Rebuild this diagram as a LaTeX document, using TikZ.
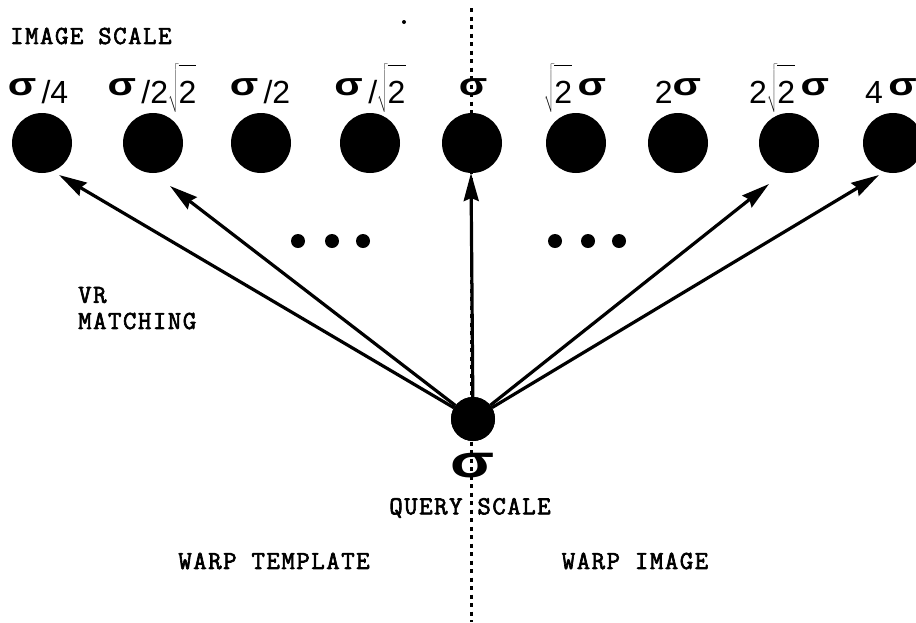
\documentclass[tikz,border=0pt]{standalone}
\usepackage{fontspec}
\setsansfont{Liberation Sans}
\newfontfamily\capfont{Latin Modern Mono}[FakeBold=2.5, LetterSpace=6]
\usetikzlibrary{arrows.meta}

% raised, widened sigma used in the scale labels
\newcommand\ssig{\raisebox{8pt}{\bfseries\scalebox{1.3}[1]{σ}}}
% square root with a tall radical
\newcommand\rtwo{$\sqrt{\rule[-8pt]{0pt}{44pt}\hbox{2}}$}

\tikzset{
  scaledot/.style={circle, fill=black, minimum size=60pt, inner sep=0pt, outer sep=0pt},
  querydot/.style={circle, fill=black, minimum size=44pt, inner sep=0pt, outer sep=0pt},
  pausedot/.style={circle, fill=black, minimum size=14pt, inner sep=0pt},
  scalelabel/.style={anchor=base, inner sep=0pt, font=\sffamily\fontsize{32}{36}\selectfont},
  caption/.style={inner sep=0pt, font=\capfont\fontsize{26}{28}\selectfont},
  match/.style={-{Stealth[length=28pt,width=15pt,inset=3pt]}, line width=3.2pt},
  divider/.style={line width=3pt, dash pattern=on 4pt off 4.5pt}
}

\begin{document}
\begin{tikzpicture}[x=1pt, y=-1pt]
  \useasboundingbox (0,0) rectangle (916,622);
  \clip (0,0) rectangle (916,622);

  % template / image divider
  \coordinate (dtop) at (471,8);
  \coordinate (dbot) at (471,622);
  \draw[divider] (dtop) -- (dbot);
  \fill (404,22) circle (2pt);

  % image scales
  \node[scaledot] (c1) at (42,143) {};
  \node[scaledot] (c2) at (153,143) {};
  \node[scaledot] (c3) at (261,143) {};
  \node[scaledot] (c4) at (370,143) {};
  \node[scaledot] (c5) at (472,143) {};
  \node[scaledot] (c6) at (576,143) {};
  \node[scaledot] (c7) at (678,143) {};
  \node[scaledot] (c8) at (789,143) {};
  \node[scaledot] (c9) at (893,143) {};

  % query scale
  \node[querydot] (q) at (473,419) {};

  % ellipses
  \node[pausedot] (p1) at (298,241) {};
  \node[pausedot] (p2) at (332,241) {};
  \node[pausedot] (p3) at (363,241) {};
  \node[pausedot] (p4) at (555,241) {};
  \node[pausedot] (p5) at (588,241) {};
  \node[pausedot] (p6) at (619,241) {};

  % arrow tips just below the matched scales
  \path (c1) ++(17,32)  coordinate (t1);
  \path (c2) ++(17,43)  coordinate (t2);
  \path (c5) ++(-1,30)  coordinate (t5);
  \path (c8) ++(-20,41) coordinate (t8);
  \path (c9) ++(-14,32) coordinate (t9);

  \draw[match] (q) -- (t1);
  \draw[match] (q) -- (t2);
  \draw[match] (q) -- (t5);
  \draw[match] (q) -- (t8);
  \draw[match] (q) -- (t9);
  \node[querydot] at (q) {};

  % scale labels
  \node[scalelabel] (l1) at (38,103)  {\ssig\,/4};
  \node[scalelabel] (l2) at (152,103) {\ssig\,/2\rtwo};
  \node[scalelabel] (l3) at (260,103) {\ssig\,/2};
  \node[scalelabel] (l4) at (370,103) {\ssig\,/\rtwo};
  \node[scalelabel] (l5) at (473,103) {\ssig};
  \node[scalelabel] (l6) at (575,103) {\rtwo\,\ssig};
  \node[scalelabel] (l7) at (678,103) {2\ssig};
  \node[scalelabel] (l8) at (789,103) {2\rtwo\,\ssig};
  \node[scalelabel] (l9) at (891,103) {4\,\ssig};

  \node[inner sep=0pt, font=\sffamily\bfseries\fontsize{46}{50}\selectfont] (qs) at (473,466) {\scalebox{1.4}[1]{σ}};

  % captions
  \node[caption, anchor=west] (imgscale) at (10,36) {IMAGE SCALE};
  \node[caption, anchor=west] (vr) at (78,295) {VR};
  \node[caption, anchor=west] (vrm) at (78,321) {MATCHING};
  \node[caption] (qscale) at (470,508) {QUERY SCALE};
  \node[caption] (wt) at (274,561) {WARP TEMPLATE};
  \node[caption] (wi) at (635,561) {WARP IMAGE};
\end{tikzpicture}
\end{document}
